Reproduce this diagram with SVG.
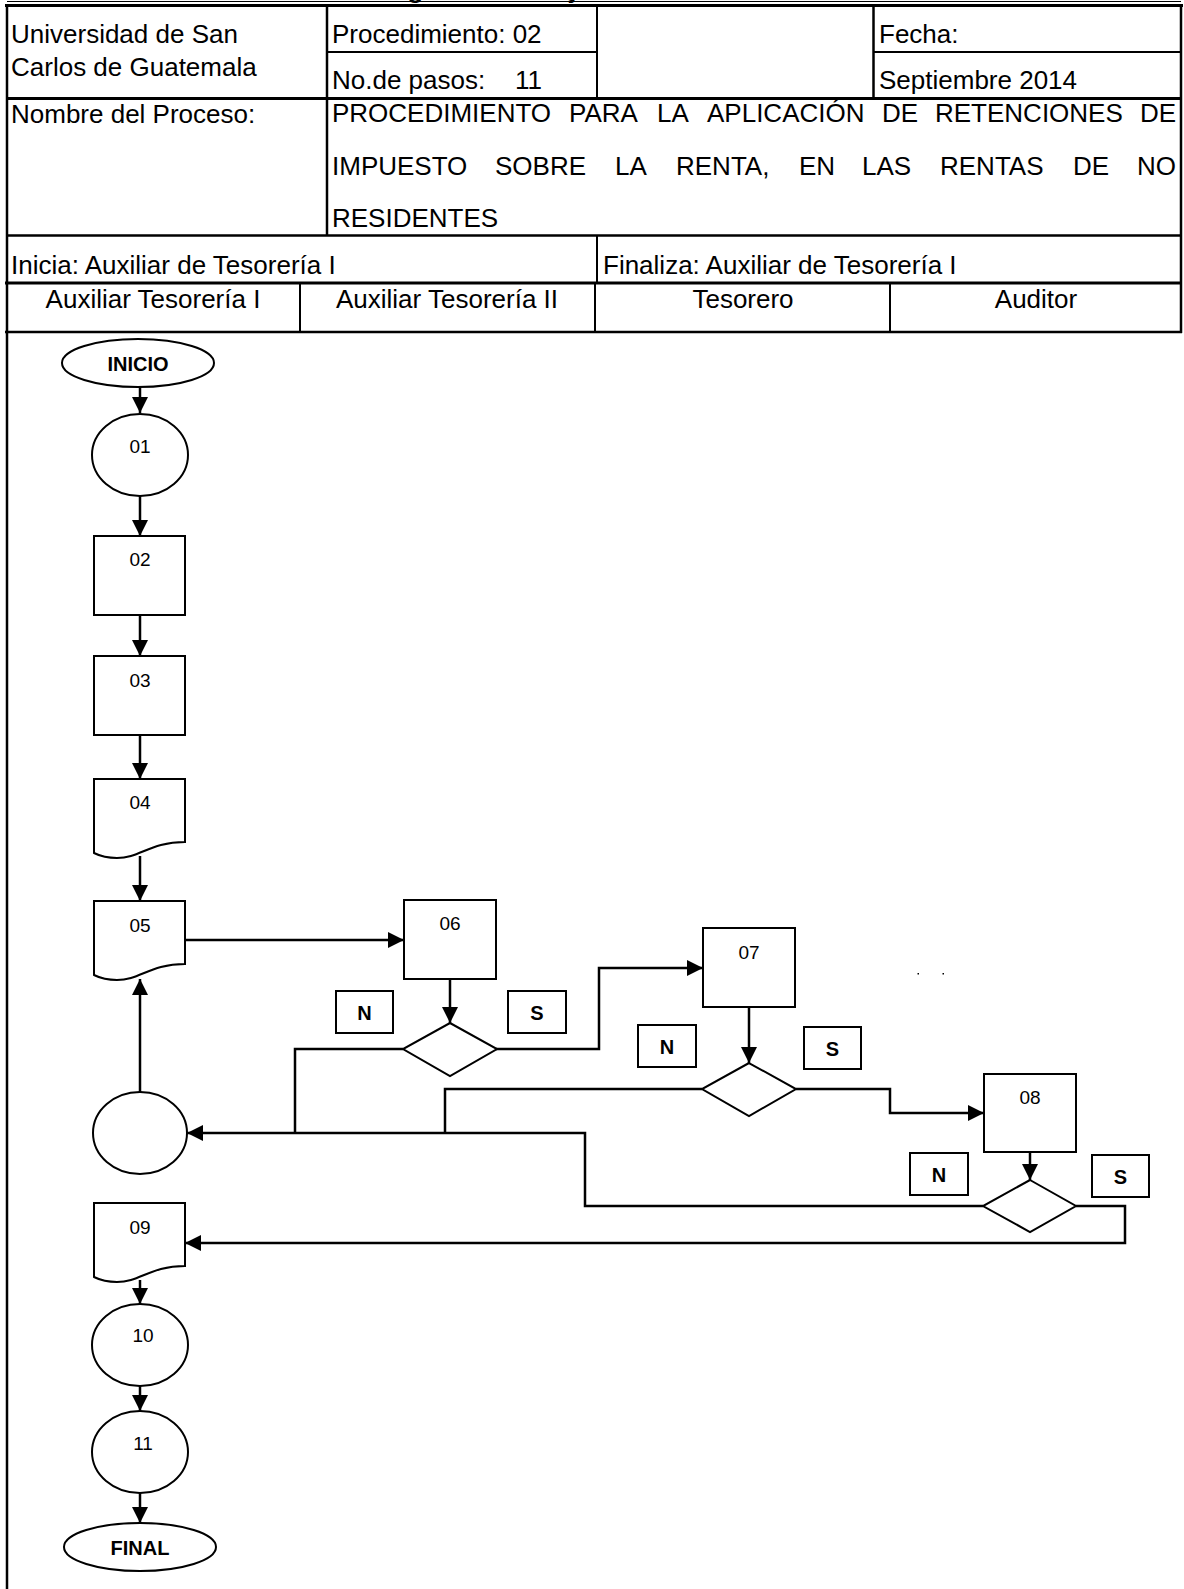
<svg xmlns="http://www.w3.org/2000/svg" width="1184" height="1589" viewBox="0 0 1184 1589">
<defs>
<marker id="ah" viewBox="0 0 16 16" markerWidth="16" markerHeight="16" refX="16" refY="8" orient="auto" markerUnits="userSpaceOnUse">
<path d="M0,0 L16,8 L0,16 Z" fill="#000"/>
</marker>
<style>
.t{font-family:"Liberation Sans",Arial,sans-serif;font-size:26px;fill:#000}
.lb{font-family:"Liberation Sans",Arial,sans-serif;font-size:19px;fill:#000;text-anchor:middle}
.bd{font-family:"Liberation Sans",Arial,sans-serif;font-size:20px;font-weight:bold;fill:#000;text-anchor:middle}
.ln{stroke:#000;fill:none}
.sh{fill:#fff;stroke:#000;stroke-width:2}
.cn{fill:none;stroke:#000;stroke-width:2.5;marker-end:url(#ah)}
.cp{fill:none;stroke:#000;stroke-width:2.5}
</style>
</defs>
<rect width="1184" height="1589" fill="#fff"/>

<g id="header">
<text class="t" x="367" y="-2.5" font-weight="bold">Diagrama de Flujo</text>
<line class="ln" x1="7" y1="1.5" x2="1181" y2="1.5" stroke="#888" stroke-width="1"/>
<line class="ln" x1="5" y1="5.5" x2="1183" y2="5.5" stroke-width="3"/>
<line class="ln" x1="7" y1="4" x2="7" y2="1589" stroke-width="2.5"/>
<line class="ln" x1="1181" y1="4" x2="1181" y2="333" stroke-width="2.5"/>
<line class="ln" x1="327" y1="5.5" x2="327" y2="235" stroke-width="2.5"/>
<line class="ln" x1="597" y1="5.5" x2="597" y2="98" stroke-width="2"/>
<line class="ln" x1="873.5" y1="5.5" x2="873.5" y2="98" stroke-width="2.5"/>
<line class="ln" x1="327" y1="52" x2="597" y2="52" stroke-width="2"/>
<line class="ln" x1="873.5" y1="52" x2="1181" y2="52" stroke-width="2"/>
<line class="ln" x1="6" y1="98.5" x2="1182" y2="98.5" stroke-width="3"/>
<line class="ln" x1="6" y1="235.5" x2="1182" y2="235.5" stroke-width="2.5"/>
<line class="ln" x1="597" y1="235" x2="597" y2="283" stroke-width="2"/>
<line class="ln" x1="5" y1="283" x2="1182" y2="283" stroke-width="3"/>
<line class="ln" x1="300" y1="283" x2="300" y2="332" stroke-width="2"/>
<line class="ln" x1="595" y1="283" x2="595" y2="332" stroke-width="2"/>
<line class="ln" x1="890" y1="283" x2="890" y2="332" stroke-width="2"/>
<line class="ln" x1="5" y1="332" x2="1182" y2="332" stroke-width="2.5"/>

<text class="t" x="11" y="42.5">Universidad de San</text>
<text class="t" x="11" y="76">Carlos de Guatemala</text>
<text class="t" x="332" y="43">Procedimiento: 02</text>
<text class="t" x="332" y="89">No.de pasos:</text>
<text class="t" x="515" y="89">11</text>
<text class="t" x="879" y="43">Fecha:</text>
<text class="t" x="879" y="89">Septiembre 2014</text>
<text class="t" x="11" y="123">Nombre del Proceso:</text>
<text class="t" y="122"><tspan x="332">PROCEDIMIENTO</tspan><tspan x="569">PARA</tspan><tspan x="657">LA</tspan><tspan x="707">APLICACIÓN</tspan><tspan x="882">DE</tspan><tspan x="935">RETENCIONES</tspan><tspan x="1140">DE</tspan></text>
<text class="t" y="175"><tspan x="332">IMPUESTO</tspan><tspan x="495">SOBRE</tspan><tspan x="615">LA</tspan><tspan x="676">RENTA,</tspan><tspan x="799">EN</tspan><tspan x="862">LAS</tspan><tspan x="940">RENTAS</tspan><tspan x="1073">DE</tspan><tspan x="1137">NO</tspan></text>
<text class="t" x="332" y="227">RESIDENTES</text>
<text class="t" x="11" y="274">Inicia: Auxiliar de Tesorería I</text>
<text class="t" x="603" y="274">Finaliza: Auxiliar de Tesorería I</text>
<text class="t" x="153" y="308" text-anchor="middle">Auxiliar Tesorería I</text>
<text class="t" x="447" y="308" text-anchor="middle">Auxiliar Tesorería II</text>
<text class="t" x="743" y="308" text-anchor="middle">Tesorero</text>
<text class="t" x="1036" y="308" text-anchor="middle">Auditor</text>
</g>

<g id="connectors">
<line class="cn" x1="140" y1="387" x2="140" y2="413"/>
<line class="cn" x1="140" y1="496" x2="140" y2="536"/>
<line class="cn" x1="140" y1="615" x2="140" y2="656"/>
<line class="cn" x1="140" y1="735" x2="140" y2="779"/>
<line class="cn" x1="140" y1="856" x2="140" y2="901"/>
<line class="cn" x1="185" y1="940" x2="404" y2="940"/>
<line class="cn" x1="450" y1="979" x2="450" y2="1023"/>
<polyline class="cn" points="496,1049 599,1049 599,968 703,968"/>
<line class="cn" x1="749" y1="1007" x2="749" y2="1063"/>
<polyline class="cn" points="796,1089 890,1089 890,1113 984,1113"/>
<line class="cn" x1="1030" y1="1152" x2="1030" y2="1180"/>
<polyline class="cn" points="1076,1206 1125,1206 1125,1243 185,1243"/>
<polyline class="cn" points="983,1206 585,1206 585,1133 187,1133"/>
<polyline class="cp" points="702,1089 445,1089 445,1133"/>
<polyline class="cp" points="403,1049 295,1049 295,1133"/>
<line class="cn" x1="140" y1="1092" x2="140" y2="979"/>
<line class="cn" x1="140" y1="1280" x2="140" y2="1304"/>
<line class="cn" x1="140" y1="1386" x2="140" y2="1411"/>
<line class="cn" x1="140" y1="1493" x2="140" y2="1523"/>
</g>

<g id="inicio"><ellipse class="sh" cx="138" cy="363" rx="76" ry="24"/><text class="bd" x="138" y="370.5">INICIO</text></g>
<g id="n01"><ellipse class="sh" cx="140" cy="455" rx="48" ry="41"/><text class="lb" x="140" y="453">01</text></g>
<g id="n02"><rect class="sh" x="94" y="536" width="91" height="79"/><text class="lb" x="140" y="566">02</text></g>
<g id="n03"><rect class="sh" x="94" y="656" width="91" height="79"/><text class="lb" x="140" y="687">03</text></g>
<g id="n04"><path class="sh" d="M94,779 H185 V842 C150,842 140,858 117,858 C105,858 98,855 94,853 Z"/><text class="lb" x="140" y="809">04</text></g>
<g id="n05"><path class="sh" d="M94,901 H185 V964 C150,964 140,980 117,980 C105,980 98,977 94,975 Z"/><text class="lb" x="140" y="932">05</text></g>
<g id="n06"><rect class="sh" x="404" y="900" width="92" height="79"/><text class="lb" x="450" y="930">06</text></g>
<g id="d1"><polygon class="sh" points="450,1023 497,1049 450,1076 403,1049"/></g>
<g id="n1"><rect class="sh" x="336" y="991" width="57" height="42"/><text class="bd" x="364.5" y="1020">N</text></g>
<g id="s1"><rect class="sh" x="508" y="991" width="58" height="42"/><text class="bd" x="537" y="1020">S</text></g>
<g id="n07"><rect class="sh" x="703" y="928" width="92" height="79"/><text class="lb" x="749" y="959">07</text></g>
<g id="d2"><polygon class="sh" points="749,1063 796,1089 749,1116 702,1089"/></g>
<g id="n2"><rect class="sh" x="638" y="1025" width="58" height="42"/><text class="bd" x="667" y="1054">N</text></g>
<g id="s2"><rect class="sh" x="804" y="1027" width="57" height="42"/><text class="bd" x="832.5" y="1056">S</text></g>
<g id="n08"><rect class="sh" x="984" y="1074" width="92" height="78"/><text class="lb" x="1030" y="1104">08</text></g>
<g id="d3"><polygon class="sh" points="1030,1180 1076,1206 1030,1232 983,1206"/></g>
<g id="n3"><rect class="sh" x="910" y="1153" width="58" height="42"/><text class="bd" x="939" y="1182">N</text></g>
<g id="s3"><rect class="sh" x="1092" y="1155" width="57" height="42"/><text class="bd" x="1120.5" y="1184">S</text></g>
<g id="conector"><ellipse class="sh" cx="140" cy="1133" rx="47" ry="41"/></g>
<g id="n09"><path class="sh" d="M94,1203 H185 V1266 C150,1266 140,1282 117,1282 C105,1282 98,1279 94,1277 Z"/><text class="lb" x="140" y="1234">09</text></g>
<g id="n10"><ellipse class="sh" cx="140" cy="1345" rx="48" ry="41"/><text class="lb" x="143" y="1342">10</text></g>
<g id="n11"><ellipse class="sh" cx="140" cy="1452" rx="48" ry="41"/><text class="lb" x="143" y="1450">11</text></g>
<g id="final"><ellipse class="sh" cx="140" cy="1547" rx="76" ry="24"/><text class="bd" x="140" y="1554.5">FINAL</text></g>
<g id="dots"><rect x="917.5" y="973" width="1.5" height="1.5" fill="#000"/><rect x="942.5" y="973" width="1.5" height="1.5" fill="#000"/></g>
</svg>
